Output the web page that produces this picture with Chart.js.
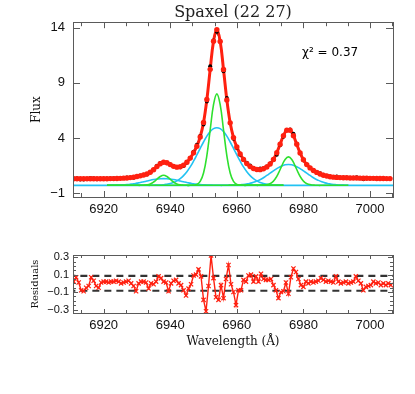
<!DOCTYPE html>
<html>
<head>
<meta charset="utf-8">
<script src="https://cdn.jsdelivr.net/npm/chart.js@4.4.0/dist/chart.umd.min.js"></script>
<style>
	body { margin: 0; background: #fff; }
	#wrap { position: relative; width: 415px; height: 394px; background: #fff; }
	canvas { position: absolute; left: 0; }
</style>
</head>
<body>
<div id="wrap">
	<canvas id="fit" width="415" height="230" style="top:0"></canvas>
	<canvas id="res" width="415" height="114" style="top:235px"></canvas>
</div>
<script>
// ---- data ----
const titleText = 'Spaxel (22 27)';
const chiText = 'χ² = 0.37';

const xTicks = [6920, 6940, 6960, 6980, 7000];
const fluxTicks = [-1, 4, 9, 14];
const resTicks = [-0.3, -0.1, 0.1, 0.3];

// spectrum, 1 A sampling
const fitWave = [
	6911, 6912, 6913, 6914, 6915, 6916, 6917, 6918, 6919, 6920,
	6921, 6922, 6923, 6924, 6925, 6926, 6927, 6928, 6929, 6930,
	6931, 6932, 6933, 6934, 6935, 6936, 6937, 6938, 6939, 6940,
	6941, 6942, 6943, 6944, 6945, 6946, 6947, 6948, 6949, 6950,
	6951, 6952, 6953, 6954, 6955, 6956, 6957, 6958, 6959, 6960,
	6961, 6962, 6963, 6964, 6965, 6966, 6967, 6968, 6969, 6970,
	6971, 6972, 6973, 6974, 6975, 6976, 6977, 6978, 6979, 6980,
	6981, 6982, 6983, 6984, 6985, 6986, 6987, 6988, 6989, 6990,
	6991, 6992, 6993, 6994, 6995, 6996, 6997, 6998, 6999, 7000,
	7001, 7002, 7003, 7004, 7005, 7006,
];
const dataFlux = [
	0.32, 0.35, 0.22, 0.22, 0.27, 0.37, 0.33, 0.25, 0.31, 0.32,
	0.31, 0.33, 0.33, 0.34, 0.33, 0.37, 0.40, 0.40, 0.38, 0.48,
	0.58, 0.65, 0.68, 0.89, 1.11, 1.47, 1.72, 1.82, 1.70, 1.58,
	1.45, 1.35, 1.33, 1.45, 1.74, 2.16, 2.74, 3.38, 4.17, 5.21,
	7.30, 10.50, 12.83, 13.64, 12.74, 10.04, 7.62, 5.36, 3.93, 3.09,
	2.47, 2.09, 1.75, 1.50, 1.24, 1.15, 1.23, 1.25, 1.40, 1.68,
	2.03, 2.48, 3.33, 4.11, 4.71, 4.77, 4.37, 3.47, 2.62, 1.98,
	1.60, 1.30, 1.06, 0.90, 0.79, 0.66, 0.57, 0.50, 0.45, 0.50,
	0.40, 0.40, 0.40, 0.38, 0.38, 0.44, 0.35, 0.26, 0.31, 0.31,
	0.35, 0.32, 0.31, 0.32, 0.30, 0.29,
];
const modelFlux = [
	0.30, 0.30, 0.30, 0.30, 0.30, 0.30, 0.30, 0.30, 0.30, 0.30,
	0.30, 0.31, 0.31, 0.32, 0.33, 0.35, 0.37, 0.40, 0.44, 0.50,
	0.56, 0.63, 0.73, 0.89, 1.11, 1.40, 1.66, 1.79, 1.75, 1.58,
	1.42, 1.35, 1.38, 1.53, 1.80, 2.17, 2.65, 3.25, 4.09, 5.40,
	7.48, 10.22, 12.77, 13.83, 12.76, 10.21, 7.45, 5.37, 4.03, 3.17,
	2.55, 2.05, 1.67, 1.40, 1.22, 1.13, 1.12, 1.20, 1.36, 1.63,
	2.05, 2.66, 3.43, 4.20, 4.70, 4.70, 4.20, 3.42, 2.64, 2.02,
	1.58, 1.28, 1.05, 0.87, 0.73, 0.62, 0.54, 0.48, 0.44, 0.42,
	0.40, 0.39, 0.38, 0.37, 0.36, 0.36, 0.35, 0.34, 0.34, 0.33,
	0.33, 0.32, 0.32, 0.32, 0.31, 0.31,
];

// fit components ([NII]6548 + Halpha), plotted on a -0.3 baseline
const compBaseline = -0.3;
const compWaveA = [
	6921, 6922, 6923, 6924, 6925, 6926, 6927, 6928, 6929, 6930,
	6931, 6932, 6933, 6934, 6935, 6936, 6937, 6938, 6939, 6940,
	6941, 6942, 6943, 6944, 6945, 6946, 6947, 6948, 6949, 6950,
	6951, 6952, 6953, 6954, 6955, 6956, 6957, 6958, 6959, 6960,
	6961, 6962, 6963, 6964, 6965, 6966, 6967, 6968, 6969, 6970,
	6971, 6972, 6973, 6974,
];
const niiNarrow = [
	-0.30, -0.30, -0.30, -0.30, -0.30, -0.30, -0.30, -0.30, -0.30, -0.30,
	-0.30, -0.29, -0.26, -0.18, 0.00, 0.25, 0.50, 0.61, 0.50, 0.25,
	0.00, -0.18, -0.26, -0.29, -0.30, -0.30, -0.30, -0.30, -0.30, -0.30,
	-0.30, -0.30, -0.30, -0.30, -0.30, -0.30, -0.30, -0.30, -0.30, -0.30,
	-0.30, -0.30, -0.30, -0.30, -0.30, -0.30, -0.30, -0.30, -0.30, -0.30,
	-0.30, -0.30, -0.30, -0.30,
];
const niiBroad = [
	-0.30, -0.29, -0.29, -0.28, -0.27, -0.25, -0.23, -0.20, -0.16, -0.10,
	-0.05, 0.02, 0.09, 0.16, 0.22, 0.27, 0.30, 0.31, 0.30, 0.27,
	0.22, 0.16, 0.09, 0.02, -0.05, -0.10, -0.16, -0.20, -0.23, -0.25,
	-0.27, -0.28, -0.29, -0.29, -0.30, -0.30, -0.30, -0.30, -0.30, -0.30,
	-0.30, -0.30, -0.30, -0.30, -0.30, -0.30, -0.30, -0.30, -0.30, -0.30,
	-0.30, -0.30, -0.30, -0.30,
];
const haNarrow = [
	-0.30, -0.30, -0.30, -0.30, -0.30, -0.30, -0.30, -0.30, -0.30, -0.30,
	-0.30, -0.30, -0.30, -0.30, -0.30, -0.30, -0.30, -0.30, -0.30, -0.30,
	-0.30, -0.30, -0.30, -0.30, -0.30, -0.30, -0.28, -0.21, 0.06, 0.82,
	2.40, 4.73, 7.02, 8.00, 7.02, 4.73, 2.40, 0.82, 0.06, -0.21,
	-0.28, -0.30, -0.30, -0.30, -0.30, -0.30, -0.30, -0.30, -0.30, -0.30,
	-0.30, -0.30, -0.30, -0.30,
];
const haBroad = [
	-0.30, -0.30, -0.30, -0.30, -0.30, -0.30, -0.30, -0.30, -0.30, -0.30,
	-0.30, -0.30, -0.30, -0.30, -0.29, -0.28, -0.27, -0.25, -0.20, -0.14,
	-0.04, 0.10, 0.31, 0.58, 0.94, 1.37, 1.89, 2.46, 3.05, 3.63,
	4.16, 4.57, 4.84, 4.93, 4.84, 4.57, 4.16, 3.63, 3.05, 2.46,
	1.89, 1.37, 0.94, 0.58, 0.31, 0.10, -0.04, -0.14, -0.20, -0.25,
	-0.27, -0.28, -0.29, -0.30,
];

// [NII]6583 components
const compWaveB = [
	6957.5, 6958.5, 6959.5, 6960.5, 6961.5, 6962.5, 6963.5, 6964.5, 6965.5, 6966.5,
	6967.5, 6968.5, 6969.5, 6970.5, 6971.5, 6972.5, 6973.5, 6974.5, 6975.5, 6976.5,
	6977.5, 6978.5, 6979.5, 6980.5, 6981.5, 6982.5, 6983.5, 6984.5, 6985.5, 6986.5,
	6987.5, 6988.5, 6989.5, 6990.5, 6991.5, 6992.5, 6993.5,
];
const nii2Narrow = [
	-0.30, -0.30, -0.30, -0.30, -0.30, -0.30, -0.30, -0.30, -0.30, -0.30,
	-0.29, -0.27, -0.21, -0.06, 0.27, 0.80, 1.47, 2.05, 2.28, 2.05,
	1.47, 0.80, 0.27, -0.06, -0.21, -0.27, -0.29, -0.30, -0.30, -0.30,
	-0.30, -0.30, -0.30, -0.30, -0.30, -0.30, -0.30,
];
const nii2Broad = [
	-0.30, -0.29, -0.28, -0.27, -0.24, -0.21, -0.15, -0.08, 0.02, 0.15,
	0.30, 0.49, 0.70, 0.91, 1.12, 1.31, 1.46, 1.56, 1.59, 1.56,
	1.46, 1.31, 1.12, 0.91, 0.70, 0.49, 0.30, 0.15, 0.02, -0.08,
	-0.15, -0.21, -0.24, -0.27, -0.28, -0.29, -0.30,
];

// residuals
const resWave = [
	6911, 6911.75, 6912.5, 6913.25, 6914, 6914.75, 6915.5, 6916.25, 6917, 6917.75,
	6918.5, 6919.25, 6920, 6920.75, 6921.5, 6922.25, 6923, 6923.75, 6924.5, 6925.25,
	6926, 6926.75, 6927.5, 6928.25, 6929, 6929.75, 6930.5, 6931.25, 6932, 6932.75,
	6933.5, 6934.25, 6935, 6935.75, 6936.5, 6937.25, 6938, 6938.75, 6939.5, 6940.25,
	6941, 6941.75, 6942.5, 6943.25, 6944, 6944.75, 6945.5, 6946.25, 6947, 6947.75,
	6948.5, 6949.25, 6950, 6950.75, 6951.5, 6952.25, 6953, 6953.75, 6954.5, 6955.25,
	6956, 6956.75, 6957.5, 6958.25, 6959, 6959.75, 6960.5, 6961.25, 6962, 6962.75,
	6963.5, 6964.25, 6965, 6965.75, 6966.5, 6967.25, 6968, 6968.75, 6969.5, 6970.25,
	6971, 6971.75, 6972.5, 6973.25, 6974, 6974.75, 6975.5, 6976.25, 6977, 6977.75,
	6978.5, 6979.25, 6980, 6980.75, 6981.5, 6982.25, 6983, 6983.75, 6984.5, 6985.25,
	6986, 6986.75, 6987.5, 6988.25, 6989, 6989.75, 6990.5, 6991.25, 6992, 6992.75,
	6993.5, 6994.25, 6995, 6995.75, 6996.5, 6997.25, 6998, 6998.75, 6999.5, 7000.25,
	7001, 7001.75, 7002.5, 7003.25, 7004, 7004.75, 7005.5, 7006.25,
];
const residual = [
	0.02, 0.07, 0.01, -0.08, -0.09, -0.05, -0.03, 0.07, 0.03, -0.03,
	-0.05, 0.01, 0.02, 0.02, 0.01, 0.02, 0.02, 0.03, 0.02, 0.00,
	0.01, 0.02, 0.03, 0.00, -0.03, -0.09, 0.00, 0.02, 0.02, 0.01,
	-0.06, 0.00, -0.01, 0.02, 0.08, 0.06, 0.02, 0.01, -0.09, 0.00,
	0.03, 0.04, 0.00, -0.02, -0.08, -0.14, -0.06, -0.01, 0.09, 0.10,
	0.16, 0.08, -0.19, -0.32, -0.03, 0.32, 0.06, -0.16, -0.19, -0.02,
	-0.17, 0.05, 0.21, -0.01, -0.10, -0.25, -0.08, -0.08, 0.04, 0.02,
	0.09, 0.10, 0.02, 0.08, 0.02, 0.11, 0.05, 0.04, 0.04, 0.05,
	-0.02, -0.08, -0.17, -0.10, -0.09, 0.01, -0.12, 0.07, 0.17, 0.13,
	0.05, -0.02, -0.04, 0.02, 0.00, 0.02, 0.01, 0.02, 0.03, 0.06,
	0.04, 0.02, 0.03, 0.02, 0.01, 0.08, 0.02, 0.00, 0.01, 0.02,
	0.00, 0.01, 0.02, 0.08, 0.03, 0.00, -0.08, -0.04, -0.03, -0.02,
	0.02, 0.00, 0.01, -0.02, 0.00, -0.02, 0.00, -0.02,
];
const residualBand = [0.085, -0.085];

// ---- drawing ----
const X_MIN = 6910.8;
const X_MAX = 7006.9;
const RED = '#ff2010';
const GREEN = '#2ee02e';
const CYAN = '#22c2f2';
const AXIS = '#5a5a5a';

function toPoints(xs, ys) {
	return xs.map((x, i) => ({ x, y: ys[i] }));
}

function flatLine(y) {
	return [{ x: X_MIN - 5, y }, { x: X_MAX + 5, y }];
}

function minusSign(v, digits) {
	const s = digits ? Math.abs(v).toFixed(digits) : String(Math.abs(v));
	return v < 0 ? '−' + s : s;
}

// IDL-style box with ticks pointing inwards
const insideTicks = {
	id: 'insideTicks',
	afterDatasetsDraw(chart, args, opts) {
		const { ctx, chartArea: a } = chart;
		const sx = chart.scales.x;
		const sy = chart.scales.y;
		const px = (v) => Math.round(sx.getPixelForValue(v)) + 0.5;
		const py = (v) => Math.round(sy.getPixelForValue(v)) + 0.5;
		ctx.save();
		ctx.strokeStyle = AXIS;
		ctx.lineWidth = 1;
		ctx.beginPath();
		const xStep = xTicks[1] - xTicks[0];
		for (let v = xTicks[0] - xStep; v <= X_MAX; v += xStep / opts.xMinorDiv) {
			if (v < X_MIN) continue;
			const major = xTicks.some((t) => Math.abs(t - v) < 1e-6);
			const len = major ? opts.xMajor : opts.xMinor;
			const x = px(v);
			ctx.moveTo(x, a.bottom);
			ctx.lineTo(x, a.bottom - len);
			ctx.moveTo(x, a.top);
			ctx.lineTo(x, a.top + len);
		}
		const yTicks = opts.yTicks;
		yTicks.forEach((v) => {
			const y = py(v);
			ctx.moveTo(a.left, y);
			ctx.lineTo(a.left + opts.yMajor, y);
			ctx.moveTo(a.right, y);
			ctx.lineTo(a.right - opts.yMajor, y);
		});
		if (opts.yMinorStep) {
			const lo = sy.min;
			const hi = sy.max;
			for (let v = yTicks[0] - 4 * opts.yMinorStep; v <= hi; v += opts.yMinorStep) {
				if (v < lo) continue;
				if (yTicks.some((t) => Math.abs(t - v) < 1e-6)) continue;
				const y = py(v);
				ctx.moveTo(a.left, y);
				ctx.lineTo(a.left + opts.yMinor, y);
				ctx.moveTo(a.right, y);
				ctx.lineTo(a.right - opts.yMinor, y);
			}
		}
		ctx.stroke();
		ctx.strokeRect(Math.round(a.left) + 0.5, Math.round(a.top) + 0.5, Math.round(a.width), Math.round(a.height));
		ctx.restore();
	},
};

const chiLabel = {
	id: 'chiLabel',
	afterDraw(chart, args, opts) {
		if (!opts.text) return;
		const ctx = chart.ctx;
		ctx.save();
		ctx.font = '12px "DejaVu Sans"';
		ctx.fillStyle = '#000';
		ctx.textBaseline = 'middle';
		ctx.fillText(opts.text, opts.x, opts.y);
		ctx.restore();
	},
};

function xAxis(height, pad, title) {
	return {
		type: 'linear',
		min: X_MIN,
		max: X_MAX,
		afterBuildTicks: (s) => {
			s.ticks = xTicks.map((v) => ({ value: v }));
		},
		afterFit: (s) => {
			s.height = height;
		},
		grid: { display: false, drawTicks: false },
		border: { display: false },
		ticks: {
			autoSkip: false,
			maxRotation: 0,
			padding: pad,
			color: '#111',
			font: { family: 'Liberation Sans', size: 13 },
			callback: (v) => String(v),
		},
		title: title
			? {
					display: true,
					text: title,
					color: '#111',
					font: { family: 'DejaVu Serif', size: 12 },
					padding: { top: 0, bottom: 0 },
			  }
			: { display: false },
	};
}

function yAxis(min, max, ticks, tickFont, pad, digits, title, titleSize, titlePad) {
	return {
		type: 'linear',
		min,
		max,
		afterBuildTicks: (s) => {
			s.ticks = ticks.map((v) => ({ value: v }));
		},
		afterFit: (s) => {
			s.width = 73;
		},
		grid: { display: false, drawTicks: false },
		border: { display: false },
		ticks: {
			autoSkip: false,
			padding: pad,
			color: '#111',
			font: { family: 'Liberation Sans', size: tickFont },
			callback: (v) => minusSign(v, digits),
		},
		title: {
			display: true,
			text: title,
			color: '#111',
			font: { family: 'DejaVu Serif', size: titleSize },
			padding: { top: titlePad, bottom: 0 },
		},
	};
}

function lineSet(label, xs, ys, color, width) {
	return {
		label,
		data: toPoints(xs, ys),
		borderColor: color,
		borderWidth: width,
		pointRadius: 0,
		tension: 0.4,
		fill: false,
	};
}

// first dataset is painted last (on top)
new Chart(document.getElementById('fit'), {
	type: 'line',
	data: {
		datasets: [
			{
				label: 'model points',
				data: toPoints(fitWave, modelFlux),
				showLine: false,
				pointRadius: 2.7,
				pointBackgroundColor: RED,
				pointBorderWidth: 0,
			},
			{
				label: 'data points',
				data: toPoints(fitWave, dataFlux),
				showLine: false,
				pointRadius: 2,
				pointBackgroundColor: '#000',
				pointBorderWidth: 0,
			},
			lineSet('model', fitWave, modelFlux, RED, 3),
			{
				label: 'data',
				data: toPoints(fitWave, dataFlux),
				borderColor: '#000',
				borderWidth: 1,
				pointRadius: 0,
				tension: 0,
			},
			lineSet('Ha narrow', compWaveA, haNarrow, GREEN, 1.6),
			lineSet('NII narrow', compWaveA, niiNarrow, GREEN, 1.6),
			lineSet('NII2 narrow', compWaveB, nii2Narrow, GREEN, 1.6),
			lineSet('Ha broad', compWaveA, haBroad, CYAN, 1.6),
			lineSet('NII broad', compWaveA, niiBroad, CYAN, 1.6),
			lineSet('NII2 broad', compWaveB, nii2Broad, CYAN, 1.6),
			{
				label: 'baseline',
				data: flatLine(compBaseline),
				borderColor: CYAN,
				borderWidth: 1.8,
				pointRadius: 0,
			},
		],
	},
	options: {
		responsive: false,
		animation: false,
		devicePixelRatio: 1,
		layout: { padding: { left: 0, right: 22, top: 0, bottom: 0 } },
		scales: {
			x: xAxis(33, 5, null),
			y: yAxis(-1.36, 14.5, fluxTicks, 13, 8, 0, 'Flux', 12, 30),
		},
		plugins: {
			legend: { display: false },
			tooltip: { enabled: false },
			title: {
				display: true,
				text: titleText,
				fullSize: false,
				color: '#222',
				font: { family: 'DejaVu Serif', size: 16, weight: 'normal' },
				padding: { top: 3, bottom: 0 },
			},
			insideTicks: { xMinorDiv: 3, xMajor: 6, xMinor: 4, yTicks: fluxTicks, yMajor: 7, yMinorStep: 0 },
			chiLabel: { text: chiText, x: 302, y: 53 },
		},
	},
	plugins: [insideTicks, chiLabel],
});

new Chart(document.getElementById('res'), {
	type: 'line',
	data: {
		datasets: [
			{
				label: 'residuals',
				data: toPoints(resWave, residual),
				borderColor: RED,
				borderWidth: 1.4,
				pointStyle: 'crossRot',
				pointRadius: 3,
				pointBorderColor: RED,
				pointBorderWidth: 1.2,
				tension: 0,
			},
			{
				label: 'upper',
				data: flatLine(residualBand[0]),
				borderColor: '#333',
				borderWidth: 2.2,
				borderDash: [7, 5],
				pointRadius: 0,
			},
			{
				label: 'lower',
				data: flatLine(residualBand[1]),
				borderColor: '#333',
				borderWidth: 2.2,
				borderDash: [7, 5],
				pointRadius: 0,
			},
		],
	},
	options: {
		responsive: false,
		animation: false,
		devicePixelRatio: 1,
		layout: { padding: { left: 0, right: 22, top: 20, bottom: 0 } },
		scales: {
			x: xAxis(36, 5, 'Wavelength (Å)'),
			y: yAxis(-0.34, 0.325, resTicks, 11, 4, 1, 'Residuals', 10, 29),
		},
		plugins: {
			legend: { display: false },
			tooltip: { enabled: false },
			insideTicks: { xMinorDiv: 3, xMajor: 4, xMinor: 3, yTicks: resTicks, yMajor: 5, yMinor: 3, yMinorStep: 0.05 },
			chiLabel: { text: '' },
		},
	},
	plugins: [insideTicks, chiLabel],
});
</script>
</body>
</html>
